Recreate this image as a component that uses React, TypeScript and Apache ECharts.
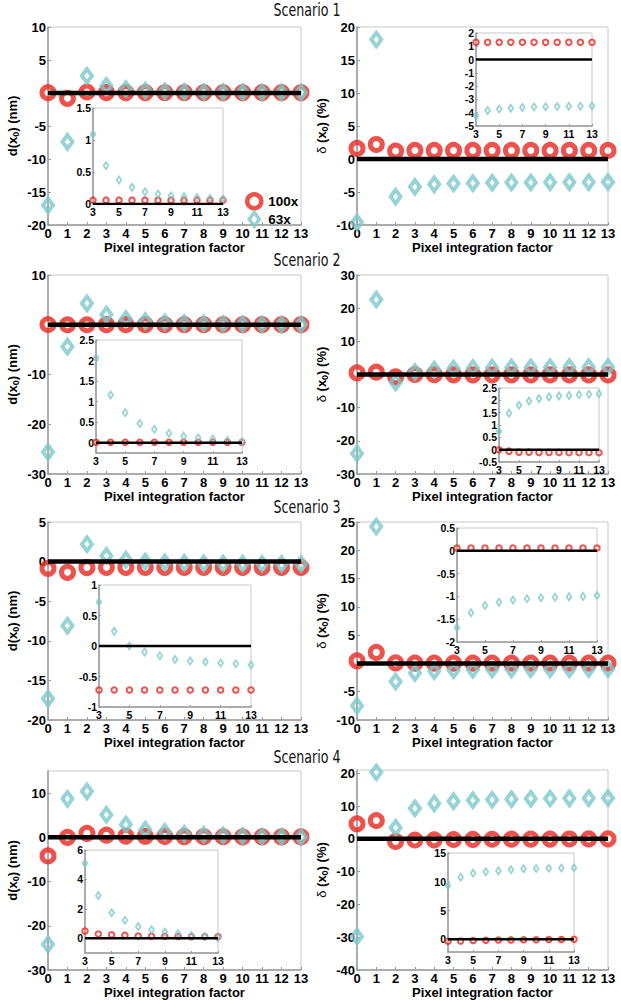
import React, { useEffect, useRef } from 'react';
import * as echarts from 'echarts';

const RED = '#e8281f';
const CYAN = '#7cc8cb';
const FONT = "'Liberation Sans', Arial, sans-serif";
const TITLE_FONT = "'Liberation Sans Narrow', 'DejaVu Sans Condensed', 'Open Sans', 'Liberation Sans', sans-serif";

// x values (pixel integration factor)
const X_VALUES = [0, 1, 2, 3, 4, 5, 6, 7, 8, 9, 10, 11, 12, 13];
const INSET_FROM = 3;
const X_INSET_LABELS = [3, 5, 7, 9, 11, 13];
const BASELINE = 0;

const SCENARIOS = ['Scenario 1', 'Scenario 2', 'Scenario 3', 'Scenario 4'];
const SERIES_NAMES = ['100x', '63x'];

// Scenario 1
const S1_D_100X = [0.05, -0.8, 0.15, 0.06, 0.06, 0.06, 0.06, 0.06, 0.06, 0.06, 0.06, 0.06, 0.06, 0.06];
const S1_D_63X = [-17, -7.4, 2.6, 1.09, 0.6, 0.375, 0.26, 0.19, 0.156, 0.13, 0.115, 0.1, 0.09, 0.08];
const S1_P_100X = [1.6, 2.2, 1.2, 1.3, 1.3, 1.3, 1.3, 1.3, 1.3, 1.3, 1.3, 1.3, 1.3, 1.3];
const S1_P_63X = [-9.6, 18.1, -5.7, -4.22, -3.84, -3.72, -3.66, -3.6, -3.57, -3.55, -3.53, -3.52, -3.51, -3.5];
// Scenario 2
const S2_D_100X = [0.05, 0.0, 0.0, 0.01, 0.01, 0.01, 0.01, 0.01, 0.01, 0.01, 0.01, 0.01, 0.01, 0.01];
const S2_D_63X = [-25.6, -4.4, 4.3, 2.07, 1.16, 0.73, 0.47, 0.33, 0.23, 0.16, 0.12, 0.09, 0.06, 0.03];
const S2_P_100X = [0.5, 0.7, -0.7, 0.0, -0.06, -0.1, -0.1, -0.11, -0.11, -0.11, -0.12, -0.12, -0.12, -0.12];
const S2_P_63X = [-23.8, 22.6, -2.4, 0.75, 1.48, 1.8, 1.97, 2.07, 2.14, 2.18, 2.2, 2.23, 2.25, 2.27];
// Scenario 3
const S3_D_100X = [-0.85, -1.35, -0.75, -0.72, -0.72, -0.72, -0.72, -0.72, -0.72, -0.72, -0.72, -0.72, -0.72, -0.72];
const S3_D_63X = [-17.3, -8.1, 2.2, 0.72, 0.24, 0.0, -0.1, -0.16, -0.22, -0.245, -0.26, -0.28, -0.29, -0.31];
const S3_P_100X = [0.46, 1.95, 0.1, 0.06, 0.06, 0.06, 0.06, 0.06, 0.06, 0.06, 0.06, 0.06, 0.06, 0.06];
const S3_P_63X = [-7.5, 24.2, -3.2, -1.68, -1.36, -1.2, -1.13, -1.08, -1.05, -1.03, -1.02, -1.01, -1.0, -0.98];
// Scenario 4
const S4_D_100X = [-4.2, 0.0, 0.9, 0.49, 0.29, 0.24, 0.2, 0.15, 0.14, 0.13, 0.12, 0.11, 0.1, 0.1];
const S4_D_63X = [-24.2, 8.7, 10.4, 5.1, 2.9, 1.74, 1.23, 0.8, 0.58, 0.42, 0.32, 0.18, 0.13, 0.03];
const S4_P_100X = [4.6, 5.6, -0.8, -0.35, -0.3, -0.2, -0.15, -0.12, -0.1, -0.08, -0.06, -0.04, -0.02, 0.0];
const S4_P_63X = [-29.8, 20.3, 3.4, 9.3, 10.8, 11.5, 11.75, 11.9, 12.1, 12.25, 12.3, 12.35, 12.4, 12.45];

// y tick marks and tick labels (main panels)
const S1_D_TICKS = [-20, -15, -10, -5, 0, 5, 10];
const S1_D_LABELS = [-20, -15, -10, -5, 5, 10];
const S1_P_TICKS = [-10, -5, 0, 5, 10, 15, 20];
const S1_P_LABELS = [-10, -5, 0, 5, 10, 15, 20];
const S2_D_TICKS = [-30, -20, -10, 0, 10];
const S2_D_LABELS = [-30, -20, -10, 10];
const S2_P_TICKS = [-30, -20, -10, 0, 10, 20, 30];
const S2_P_LABELS = [-30, -20, -10, 10, 20, 30];
const S3_D_TICKS = [-20, -15, -10, -5, 0, 5];
const S3_D_LABELS = [-20, -15, -10, -5, 0, 5];
const S3_P_TICKS = [-10, -5, 0, 5, 10, 15, 20, 25];
const S3_P_LABELS = [-10, -5, 5, 10, 15, 20, 25];
const S4_D_TICKS = [-30, -20, -10, 0, 10];
const S4_D_LABELS = [-30, -20, -10, 0, 10];
const S4_P_TICKS = [-40, -30, -20, -10, 0, 10, 20];
const S4_P_LABELS = [-40, -30, -20, -10, 0, 10, 20];

// inset y tick labels
const S1_D_IN = [0, 0.5, 1, 1.5];
const S1_P_IN = [-5, -4, -3, -2, -1, 0, 1, 2];
const S2_D_IN = [0, 0.5, 1, 1.5, 2, 2.5];
const S2_P_IN = [-0.5, 0, 0.5, 1, 1.5, 2, 2.5];
const S3_D_IN = [-1, -0.5, 0, 0.5, 1];
const S3_P_IN = [-2, -1.5, -1, -0.5, 0, 0.5];
const S4_D_IN = [0, 2, 4, 6];
const S4_P_IN = [0, 5, 10, 15];

const D_NAME = 'd(x{s|0}) (nm)';
const P_NAME = '{g|δ} (x{s|0}) (%)';

type Panel = {
  box: number[];
  yMin: number;
  yMax: number;
  ticks: number[];
  labels: number[];
  red: number[];
  cyan: number[];
  yName?: string;
  legend?: boolean;
};

const MAIN_PANELS: Panel[] = [
  { box: [48, 27, 253, 198], yMin: -20, yMax: 10, ticks: S1_D_TICKS, labels: S1_D_LABELS, red: S1_D_100X, cyan: S1_D_63X, yName: D_NAME, legend: true },
  { box: [357, 27, 251, 198], yMin: -10, yMax: 20, ticks: S1_P_TICKS, labels: S1_P_LABELS, red: S1_P_100X, cyan: S1_P_63X, yName: P_NAME },
  { box: [48, 275, 253, 199], yMin: -30, yMax: 10, ticks: S2_D_TICKS, labels: S2_D_LABELS, red: S2_D_100X, cyan: S2_D_63X, yName: D_NAME },
  { box: [357, 275, 251, 199], yMin: -30, yMax: 30, ticks: S2_P_TICKS, labels: S2_P_LABELS, red: S2_P_100X, cyan: S2_P_63X, yName: P_NAME },
  { box: [48, 522, 253, 198], yMin: -20, yMax: 5, ticks: S3_D_TICKS, labels: S3_D_LABELS, red: S3_D_100X, cyan: S3_D_63X, yName: D_NAME },
  { box: [357, 522, 251, 198], yMin: -10, yMax: 25, ticks: S3_P_TICKS, labels: S3_P_LABELS, red: S3_P_100X, cyan: S3_P_63X, yName: P_NAME },
  { box: [48, 771, 253, 199], yMin: -30, yMax: 15, ticks: S4_D_TICKS, labels: S4_D_LABELS, red: S4_D_100X, cyan: S4_D_63X, yName: D_NAME },
  { box: [357, 770, 251, 200], yMin: -40, yMax: 21, ticks: S4_P_TICKS, labels: S4_P_LABELS, red: S4_P_100X, cyan: S4_P_63X, yName: P_NAME },
];

const INSET_PANELS: Panel[] = [
  { box: [93, 108, 130, 96], yMin: 0, yMax: 1.5, ticks: S1_D_IN, labels: S1_D_IN, red: S1_D_100X, cyan: S1_D_63X },
  { box: [476, 33, 116, 93], yMin: -5, yMax: 2, ticks: S1_P_IN, labels: S1_P_IN, red: S1_P_100X, cyan: S1_P_63X },
  { box: [96, 340, 146, 113], yMin: -0.25, yMax: 2.5, ticks: S2_D_IN, labels: S2_D_IN, red: S2_D_100X, cyan: S2_D_63X },
  { box: [499, 388, 100, 74], yMin: -0.5, yMax: 2.5, ticks: S2_P_IN, labels: S2_P_IN, red: S2_P_100X, cyan: S2_P_63X },
  { box: [99, 585, 152, 122], yMin: -1, yMax: 1, ticks: S3_D_IN, labels: S3_D_IN, red: S3_D_100X, cyan: S3_D_63X },
  { box: [457, 528, 140, 114], yMin: -2, yMax: 0.5, ticks: S3_P_IN, labels: S3_P_IN, red: S3_P_100X, cyan: S3_P_63X },
  { box: [85, 850, 133, 103], yMin: -1, yMax: 6, ticks: S4_D_IN, labels: S4_D_IN, red: S4_D_100X, cyan: S4_D_63X },
  { box: [448, 853, 126, 99], yMin: -2.2, yMax: 15, ticks: S4_P_IN, labels: S4_P_IN, red: S4_P_100X, cyan: S4_P_63X },
];

const TITLE_TOPS = [1, 251, 498, 748];

const fmt = (v: number) => String(Math.round(v * 100) / 100);
const DIAMOND_PATH = 'path://M5 0L10 7L5 14L0 7Z';

function buildOption() {
  const grid: any[] = [];
  const xAxis: any[] = [];
  const yAxis: any[] = [];
  const series: any[] = [];
  const all = [
    ...MAIN_PANELS.map((p) => ({ ...p, inset: false })),
    ...INSET_PANELS.map((p) => ({ ...p, inset: true })),
  ];
  all.forEach((p, i) => {
    const ins = p.inset;
    const zb = ins ? 10 : 0;
    grid.push({
      left: p.box[0], top: p.box[1], width: p.box[2], height: p.box[3],
      show: true, backgroundColor: '#ffffff', borderColor: '#c8c8c8', borderWidth: 1, z: zb,
    });
    const from = ins ? INSET_FROM : 0;
    const xs = X_VALUES.slice(from);
    const xl = ins ? X_INSET_LABELS : X_VALUES;
    const lab = { fontSize: ins ? 10.5 : 13, fontWeight: 'bold', color: '#000', fontFamily: FONT };
    const axisLine = { show: true, onZero: false, lineStyle: { color: '#9a9a9a', width: 1.5 } };
    xAxis.push({
      type: 'value', gridIndex: i, min: xs[0], max: xs[xs.length - 1], z: zb + 1,
      axisLine,
      axisTick: { show: true, inside: true, length: ins ? 2 : 3, customValues: xl, lineStyle: { color: '#9a9a9a' } },
      axisLabel: { customValues: xl, margin: 2, formatter: fmt, ...lab },
      splitLine: { show: false },
      name: ins ? '' : 'Pixel integration factor',
      nameLocation: 'middle', nameGap: 14,
      nameTextStyle: { fontSize: 13, fontWeight: 'bold', color: '#000', fontFamily: FONT },
    });
    yAxis.push({
      type: 'value', gridIndex: i, min: p.yMin, max: p.yMax, z: zb + 1,
      axisLine,
      axisTick: { show: true, inside: true, length: ins ? 2 : 3, customValues: p.ticks, lineStyle: { color: '#9a9a9a' } },
      axisLabel: { customValues: p.labels, margin: 2, formatter: fmt, ...lab },
      splitLine: { show: false },
      name: p.yName || '',
      nameLocation: 'middle', nameGap: 28, nameRotate: 90,
      nameTextStyle: {
        fontSize: 13, fontWeight: 'bold', color: '#000', fontFamily: FONT, lineHeight: 16,
        rich: {
          s: { fontSize: 9, fontWeight: 'bold', fontFamily: FONT, verticalAlign: 'bottom', lineHeight: 10, color: '#000' },
          g: { fontSize: 13, fontWeight: 'normal', fontFamily: FONT, lineHeight: 16, color: '#000' },
        },
      },
    });
    const redVals = p.red.slice(from);
    const cyanVals = p.cyan.slice(from);
    series.push({
      type: 'scatter', name: p.legend ? SERIES_NAMES[0] : 'r' + i, xAxisIndex: i, yAxisIndex: i,
      data: xs.map((x, k) => [x, redVals[k]]),
      symbol: 'circle', symbolSize: ins ? 5.5 : 12,
      itemStyle: { color: 'rgba(0,0,0,0)', borderColor: RED, borderWidth: ins ? 2 : 5 },
      z: zb + 2, clip: false, silent: true,
    });
    series.push({
      type: 'scatter', name: p.legend ? SERIES_NAMES[1] : 'c' + i, xAxisIndex: i, yAxisIndex: i,
      data: xs.map((x, k) => [x, cyanVals[k]]),
      symbol: 'diamond', symbolSize: ins ? [4.8, 7] : [10, 13.5],
      itemStyle: { color: 'rgba(0,0,0,0)', borderColor: CYAN, borderWidth: ins ? 1.8 : 4 },
      z: zb + 3, clip: false, silent: true,
    });
    series.push({
      type: 'line', name: 'zero' + i, xAxisIndex: i, yAxisIndex: i,
      data: [[xs[0], BASELINE], [xs[xs.length - 1], BASELINE]],
      symbol: 'none', lineStyle: { color: '#000', width: ins ? 2.5 : 4.5 },
      z: zb + 4, silent: true,
    });
  });

  return {
    animation: false,
    backgroundColor: '#ffffff',
    grid, xAxis, yAxis, series,
    legend: {
      show: true, orient: 'vertical', left: 245, top: 192, itemWidth: 18, itemHeight: 14, itemGap: 0,
      padding: 0, selectedMode: false, z: 30,
      textStyle: { fontSize: 13.5, fontWeight: 'bold', color: '#000', fontFamily: FONT },
      data: [
        { name: SERIES_NAMES[0], icon: 'circle', itemStyle: { color: 'rgba(0,0,0,0)', borderColor: RED, borderWidth: 4.5 } },
        { name: SERIES_NAMES[1], icon: DIAMOND_PATH, itemStyle: { color: 'rgba(0,0,0,0)', borderColor: CYAN, borderWidth: 3.5 } },
      ],
    },
    graphic: SCENARIOS.map((t, i) => ({
      type: 'text', x: 307, y: TITLE_TOPS[i], z: 40, scaleX: 0.78,
      style: { text: t, fill: '#111', font: `18px ${TITLE_FONT}`, textAlign: 'center', textVerticalAlign: 'top' },
    })),
  };
}

export default function App() {
  const ref = useRef<HTMLDivElement>(null);
  useEffect(() => {
    if (!ref.current) return;
    const chart = echarts.init(ref.current, undefined, { renderer: 'svg' });
    chart.setOption(buildOption() as any);
    return () => chart.dispose();
  }, []);
  return (
    <div
      ref={ref}
      style={{ position: 'absolute', left: 0, top: 0, width: 621, height: 1000, background: '#fff' }}
    />
  );
}
